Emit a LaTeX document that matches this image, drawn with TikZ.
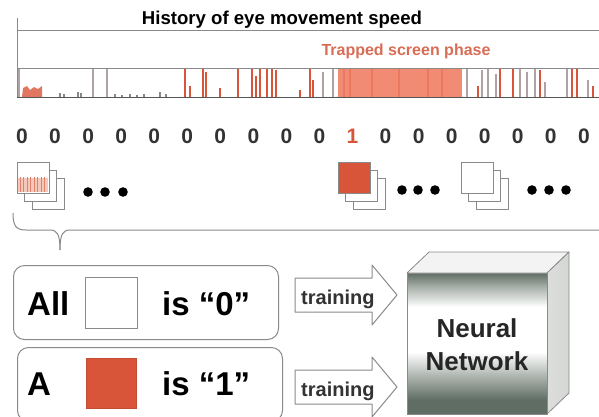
\documentclass[tikz,border=0pt]{standalone}
\usepackage{fontspec}
\setmainfont{Liberation Sans}
\usetikzlibrary{calc}

\definecolor{redbar}{HTML}{D9553A}
\definecolor{trapfill}{HTML}{F28B73}
\definecolor{trapdark}{HTML}{EC7860}
\definecolor{trapfont}{HTML}{D86C55}
\definecolor{bargray}{HTML}{B0A2A2}
\definecolor{linegray}{HTML}{8A8A8A}
\definecolor{axisgray}{HTML}{555555}
\definecolor{digitgray}{HTML}{333333}
\definecolor{pinkband}{HTML}{F3C9BC}
\definecolor{nndark}{HTML}{5F6D64}
\definecolor{nnmid}{HTML}{A9B1AB}
\definecolor{sidegray}{HTML}{D4D6D4}
\definecolor{topgray}{HTML}{F3F3F3}

\pgfdeclareverticalshading{nnfront}{100bp}{color(0bp)=(nndark); color(30bp)=(nndark); color(38bp)=(nnmid); color(47bp)=(white); color(63bp)=(white); color(70bp)=(nnmid); color(75bp)=(nndark); color(100bp)=(nndark)}

\begin{document}
\begin{tikzpicture}[x=1pt, y=-1pt,
	sheet/.style={draw=linegray, fill=white, line width=0.8pt},
	rbox/.style={draw=linegray, line width=1pt, rounded corners=11pt, anchor=north west, inner sep=0pt},
	bigtxt/.style={anchor=base west, inner sep=0pt, text=black, font=\fontsize{33}{36}\selectfont\bfseries},
	digit/.style={anchor=base, inner sep=0pt, font=\fontsize{21}{24}\selectfont\bfseries},
	trainarrow/.style={draw=linegray, fill=white, line width=1pt, line join=round},
	traintxt/.style={anchor=base west, inner sep=0pt, text=digitgray, font=\fontsize{20}{22}\selectfont\bfseries},
	nntxt/.style={anchor=base, inner sep=0pt, text=black!85, font=\fontsize{26}{30}\selectfont\bfseries},
	edge/.style={draw=linegray, line width=0.8pt, line join=round}]
	
	\useasboundingbox (0,0) rectangle (599,416);
	\clip (0,0) rectangle (599,416);
	
	% =======================================================
	% SPEED HISTORY
	% =======================================================
	\node[anchor=base, inner sep=0pt, font=\fontsize{18.6}{20}\selectfont\bfseries] (title) at (282,24) {History of eye movement speed};
	\node[anchor=base, inner sep=0pt, text=trapfont, font=\fontsize{16}{18}\selectfont\bfseries] (trap) at (406,55) {Trapped screen phase};
	
	% trapped block
	\fill[trapfill] (338,68) rectangle (462,97);
	\foreach \tx in {343,349,371,398,427,441} {
		\fill[trapdark] (\tx,68) rectangle (\tx+2,97);
	}
	
	% single bars
	\foreach \bx/\btop in {19/68, 93/68, 107/68, 323/72, 333/68, 467/68, 482/70, 488/68, 496/74, 520/68, 527/72, 535/68, 545/82, 567/68, 588/80} {
		\fill[bargray] (\bx-0.8,\btop) rectangle (\bx+0.8,97);
	}
	\foreach \bx/\btop in {185/68, 190/86, 203/68, 206/72, 220/88, 238/68, 252/68, 256/76, 260/68, 267/68, 272/68, 276/70, 300/90, 310/68, 313/80, 478/86, 500/68, 513/68, 540/70, 572/68, 577/68, 593/86} {
		\fill[redbar] (\bx-1,\btop) rectangle (\bx+1,97);
	}
	\fill[redbar!80] (22,97) -- (23,88) -- (27,86) -- (30,90) -- (34,87) -- (38,89) -- (42,86) -- (42,97) -- cycle;
	\foreach \bx/\btop in {60/93, 64/94, 78/92, 81/93, 115/94, 122/95, 130/94, 137/95, 144/94, 160/92, 166/94} {
		\fill[axisgray!70] (\bx-1,\btop) rectangle (\bx+1,97);
	}
	
	% frame lines
	\draw[linegray, line width=0.9pt] (17,18) -- (17,97);
	\draw[linegray, line width=0.9pt] (17,30) -- (599,30);
	\draw[linegray, line width=0.9pt] (17,68) -- (599,68);
	\draw[axisgray, line width=1pt] (17,97) -- (599,97);
	
	% =======================================================
	% LABEL ROW
	% =======================================================
	\foreach \i in {0,...,17} {
		\ifnum\i=10 \def\dig{1}\def\dcol{redbar}\else \def\dig{0}\def\dcol{digitgray}\fi
		\node[digit, text=\dcol] (d\i) at ({22+33.05*\i},143) {\dig};
	}
	
	% =======================================================
	% SCREEN STACKS
	% =======================================================
	\foreach \sx in {17, 338, 461} {
		\foreach \k in {2,1} {
			\draw[sheet] (\sx+7.5*\k,162+8*\k) rectangle +(32,31);
		}
	}
	% front sheets
	\draw[sheet] (17,162) rectangle +(32,31);
	\fill[pinkband] (18,178) rectangle (48,192);
	\foreach \px in {20,23.5,...,47} {
		\draw[redbar!75, line width=0.6pt] (\px,177) -- (\px,192);
	}
	\draw[linegray, line width=0.8pt] (17,162) rectangle +(32,31);
	\draw[sheet, fill=redbar] (338,162) rectangle +(32,31);
	\draw[sheet] (461,162) rectangle +(32,31);
	
	% dots
	\foreach \dx/\dy in {88/192, 105/192, 123/192, 402/190, 418/190, 435/190, 532/190, 549/190, 566/190} {
		\fill (\dx,\dy) circle (4.8);
	}
	
	% brace
	\draw[linegray, line width=1pt] (13,213) .. controls (13,226) and (16,230) .. (26,230) -- (50,230)
	.. controls (57,230) and (60,234) .. (60,250);
	\draw[linegray, line width=1pt] (60,250) .. controls (60,234) and (63,230) .. (70,230) -- (605,230);
	
	% =======================================================
	% TRAINING SETS
	% =======================================================
	\node[rbox, minimum width=265pt, minimum height=74pt] (box0) at (13,265) {};
	\node[rbox, minimum width=265pt, minimum height=74pt] (box1) at (17,347) {};
	
	\node[bigtxt] (all) at (27,315) {All};
	\draw[linegray, line width=0.8pt, fill=white] (85,277) rectangle (137,328);
	\node[bigtxt] (is0) at (162,315) {is “0”};
	
	\node[bigtxt] (one) at (27,395) {A};
	\draw[redbar!90!black, line width=0.6pt, fill=redbar] (86,358) rectangle (136,408);
	\node[bigtxt] (is1) at (162,395) {is “1”};
	
	% training arrows
	\foreach \ay/\j in {278/0, 370/1} {
		\draw[trainarrow] (295,\ay) -- (372,\ay) -- (372,\ay-13) -- (397,\ay+17) -- (372,\ay+47)
		-- (372,\ay+34) -- (295,\ay+34) -- cycle;
		\node[traintxt] (train\j) at (301,\ay+26) {training};
	}
	
	% =======================================================
	% NEURAL NETWORK BLOCK
	% =======================================================
	\filldraw[edge, fill=topgray] (407,273) -- (429,252) -- (569,252) -- (547,273) -- cycle;
	\shade[left color=sidegray!80, right color=sidegray] (547,273) -- (569,252) -- (569,393) -- (547,414) -- cycle;
	\draw[edge] (547,273) -- (569,252) -- (569,393) -- (547,414);
	\shade[shading=nnfront] (407,273) rectangle (547,414);
	\draw[edge] (407,273) rectangle (547,414);
	
	\node[nntxt] (nn1) at (477,337) {Neural};
	\node[nntxt] (nn2) at (477,370) {Network};
	
\end{tikzpicture}
\end{document}
